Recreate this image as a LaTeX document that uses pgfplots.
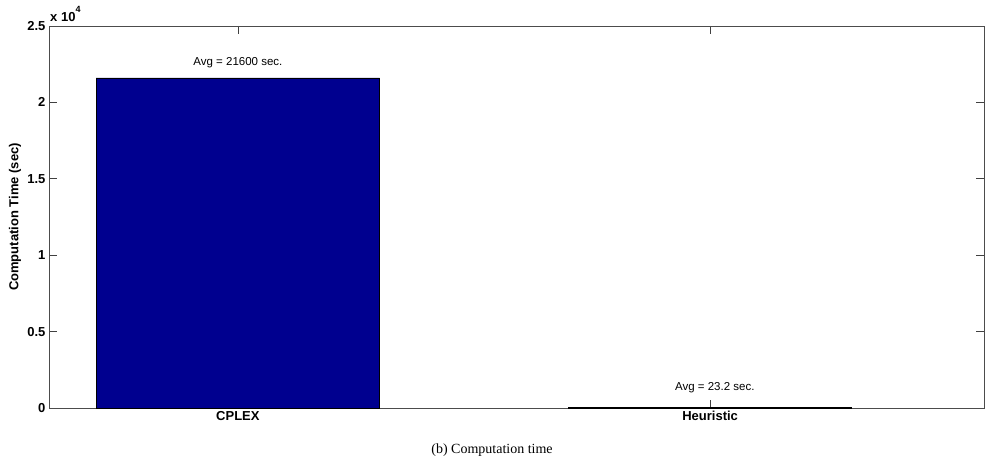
\documentclass[border=0pt]{standalone}
\usepackage{pgfplots}
\pgfplotsset{compat=1.18}
\usepackage{fontspec}
\setmainfont{Liberation Serif}
\setsansfont{Liberation Sans}
\definecolor{barblue}{rgb}{0,0,0.56}
\begin{document}
\begin{tikzpicture}[x=1pt,y=1pt]
\useasboundingbox (0,0) rectangle (985,464);
\begin{axis}[at={(49pt,56pt)}, anchor=south west, scale only axis,
  width=935pt, height=382pt,
  xmin=0.6, xmax=2.58, ymin=0, ymax=25000,
  xtick={1,2}, xticklabels={CPLEX,Heuristic},
  ytick={0,5000,10000,15000,20000,25000},
  yticklabels={0,0.5,1,1.5,2,2.5},
  scaled y ticks=false,
  tick align=inside, major tick length=8pt,
  tick style={color=black!75, line width=0.6pt},
  axis line style={color=black!70, line width=0.8pt},
  ticklabel style={font=\sffamily\bfseries\fontsize{13}{13}\selectfont},
  ylabel={Computation Time (sec)},
  ylabel style={font=\sffamily\bfseries\fontsize{13}{13}\selectfont, at={(axis description cs:-0.0364,0.5)}, anchor=center},
]
\addplot[ybar, bar width=0.6, fill=barblue, draw=black, line width=0.7pt] coordinates {(1,21600) (2,23.2)};
\node[font=\sffamily\fontsize{11.5}{12}\selectfont] at (axis cs:1,22580) {Avg = 21600 sec.};
\node[font=\sffamily\fontsize{11.5}{12}\selectfont] at (axis cs:2.01,1310) {Avg = 23.2 sec.};
\end{axis}
\node[anchor=base west, inner sep=0pt, font=\sffamily\bfseries\fontsize{13}{13}\selectfont] at (50,442) {x 10\raisebox{9pt}{\fontsize{9}{9}\selectfont 4}};
\node[anchor=base, inner sep=0pt, font=\fontsize{14}{15}\selectfont] at (492,11) {(b) Computation time};
\end{tikzpicture}
\end{document}
